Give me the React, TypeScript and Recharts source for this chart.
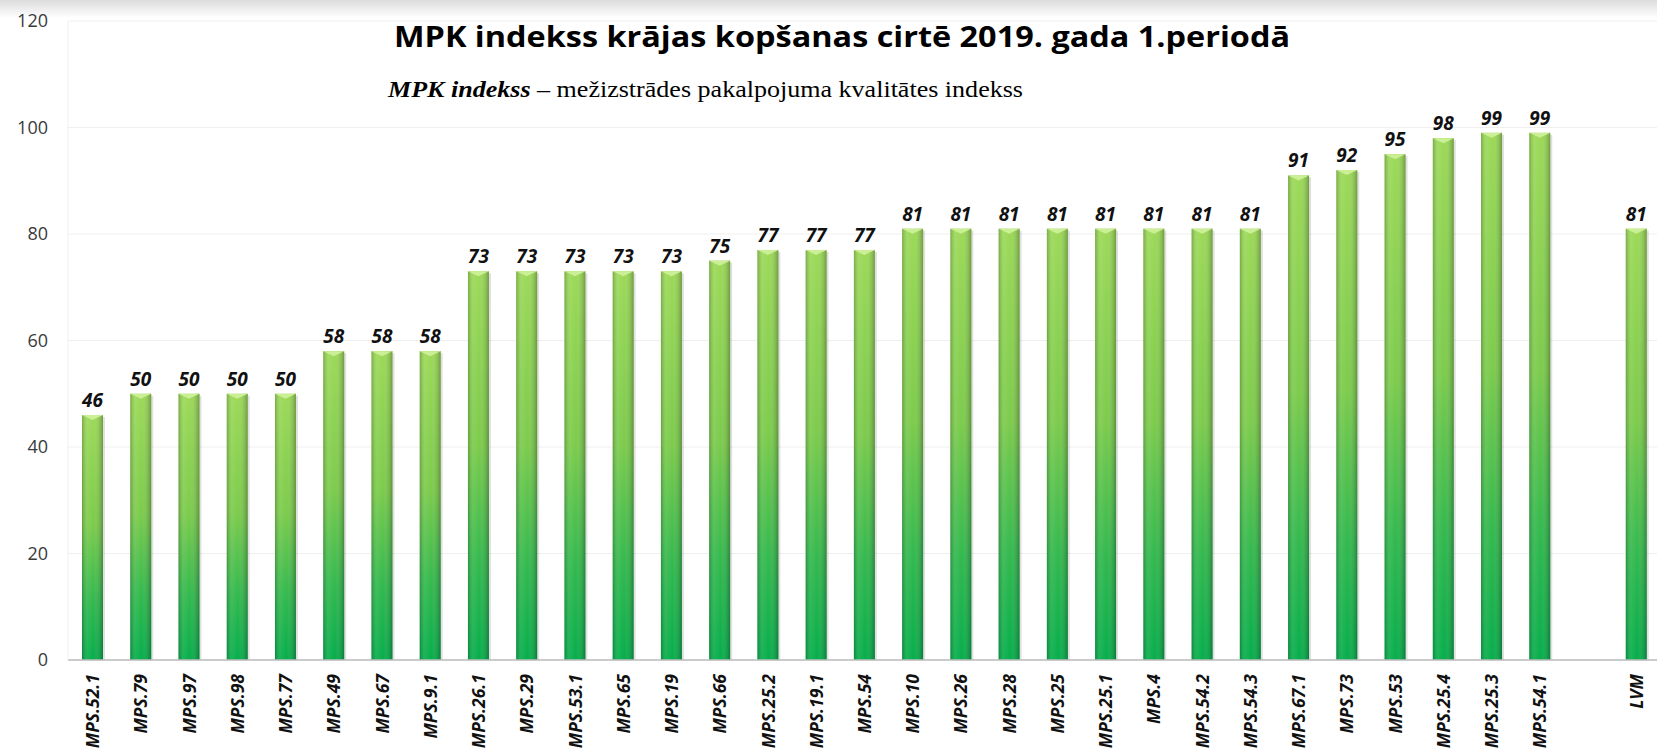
import { BarChart, Bar, XAxis, YAxis, CartesianGrid, LabelList } from "recharts";

const categories = [
  "MPS.52.1", "MPS.79", "MPS.97", "MPS.98", "MPS.77", "MPS.49", "MPS.67", "MPS.9.1",
  "MPS.26.1", "MPS.29", "MPS.53.1", "MPS.65", "MPS.19", "MPS.66", "MPS.25.2", "MPS.19.1",
  "MPS.54", "MPS.10", "MPS.26", "MPS.28", "MPS.25", "MPS.25.1", "MPS.4", "MPS.54.2",
  "MPS.54.3", "MPS.67.1", "MPS.73", "MPS.53", "MPS.25.4", "MPS.25.3", "MPS.54.1", "", "LVM",
];

const mpkValues: (number | null)[] = [
  46, 50, 50, 50, 50, 58, 58, 58,
  73, 73, 73, 73, 73, 75, 77, 77,
  77, 81, 81, 81, 81, 81, 81, 81,
  81, 91, 92, 95, 98, 99, 99, null, 81,
];

const yTicks = [0, 20, 40, 60, 80, 100, 120];

const TITLE = "MPK indekss krājas kopšanas cirtē 2019. gada 1.periodā";
const SUB_BOLD = "MPK indekss";
const SUB_REST = " – mežizstrādes pakalpojuma kvalitātes indekss";

const data = categories.map((name, i) => ({ name, value: mpkValues[i] }));

function GreenBar(props: any) {
  const { x, y, width, height } = props;
  if (!height || height <= 0) return null;
  const tip = Math.min(5, height);
  return (
    <g>
      <rect x={x + 2} y={y + 2} width={width} height={height - 2} fill="rgba(0,0,0,0.12)" />
      <rect x={x} y={y} width={width} height={height} fill="url(#barFill)" />
      <rect x={x} y={y} width={width} height={height} fill="url(#barShade)" />
      <polygon
        points={`${x},${y} ${x + width},${y} ${x + width / 2},${y + tip}`}
        fill="#cbef94"
      />
    </g>
  );
}

function XTick(props: any) {
  const { x, y, payload } = props;
  if (!payload.value) return null;
  const ty = y + 6;
  return (
    <text
      x={x}
      y={ty}
      transform={`rotate(-90, ${x}, ${ty})`}
      textAnchor="end"
      dominantBaseline="central"
      fontFamily="'Open Sans', sans-serif"
      fontWeight="bold"
      fontStyle="italic"
      fontSize={17.5}
      fill="#111"
    >
      {payload.value}
    </text>
  );
}

export default function App() {
  return (
    <div
      style={{
        position: "fixed",
        left: 0,
        top: 0,
        width: 1657,
        height: 751,
        overflow: "hidden",
        background: "#fff",
      }}
    >
      <div
        style={{
          position: "absolute",
          left: 0,
          top: 0,
          width: 1657,
          height: 18,
          background: "linear-gradient(#dcdcdc, #ffffff)",
        }}
      />
      <BarChart
        width={1660}
        height={751}
        data={data}
        margin={{ top: 21, right: 0, left: 0, bottom: 0 }}
        barSize={21}
      >
        <defs>
          <linearGradient id="barFill" x1="0" y1="0" x2="0" y2="1">
            <stop offset="0%" stopColor="#9cd958" />
            <stop offset="45%" stopColor="#7ccb4c" />
            <stop offset="75%" stopColor="#34b94e" />
            <stop offset="100%" stopColor="#06ad4b" />
          </linearGradient>
          <linearGradient id="barShade" x1="0" y1="0" x2="1" y2="0">
            <stop offset="0%" stopColor="#000" stopOpacity={0.22} />
            <stop offset="25%" stopColor="#fff" stopOpacity={0.08} />
            <stop offset="55%" stopColor="#fff" stopOpacity={0} />
            <stop offset="100%" stopColor="#000" stopOpacity={0.28} />
          </linearGradient>
        </defs>
        <CartesianGrid horizontal vertical={false} stroke="#efefef" />
        <XAxis
          dataKey="name"
          interval={0}
          height={91}
          tickLine={false}
          axisLine={{ stroke: "#bdbdbd", strokeWidth: 1.5 }}
          tick={<XTick />}
        />
        <YAxis
          domain={[0, 120]}
          ticks={yTicks}
          width={68}
          tickLine={false}
          tickMargin={14}
          axisLine={{ stroke: "#efefef" }}
          tick={{ fontFamily: "'Open Sans', sans-serif", fontSize: 18, fill: "#3a3a3a" }}
        />
        <Bar dataKey="value" shape={<GreenBar />} isAnimationActive={false}>
          <LabelList
            dataKey="value"
            position="top"
            offset={8}
            fill="#111"
            fontFamily="'Open Sans', sans-serif"
            fontWeight="bold"
            fontStyle="italic"
            fontSize={19}
          />
        </Bar>
      </BarChart>
      <svg
        width={1657}
        height={751}
        style={{ position: "absolute", left: 0, top: 0, pointerEvents: "none" }}
      >
        <text
          x={394}
          y={47}
          textLength={896}
          lengthAdjust="spacingAndGlyphs"
          fontFamily="'Open Sans', sans-serif"
          fontWeight="bold"
          fontSize={29}
          fill="#000"
        >
          {TITLE}
        </text>
        <text
          x={388}
          y={97}
          textLength={635}
          lengthAdjust="spacingAndGlyphs"
          fontFamily="'Liberation Serif', serif"
          fontSize={23}
          fill="#000"
        >
          <tspan fontWeight="bold" fontStyle="italic">{SUB_BOLD}</tspan>
          <tspan>{SUB_REST}</tspan>
        </text>
      </svg>
    </div>
  );
}
